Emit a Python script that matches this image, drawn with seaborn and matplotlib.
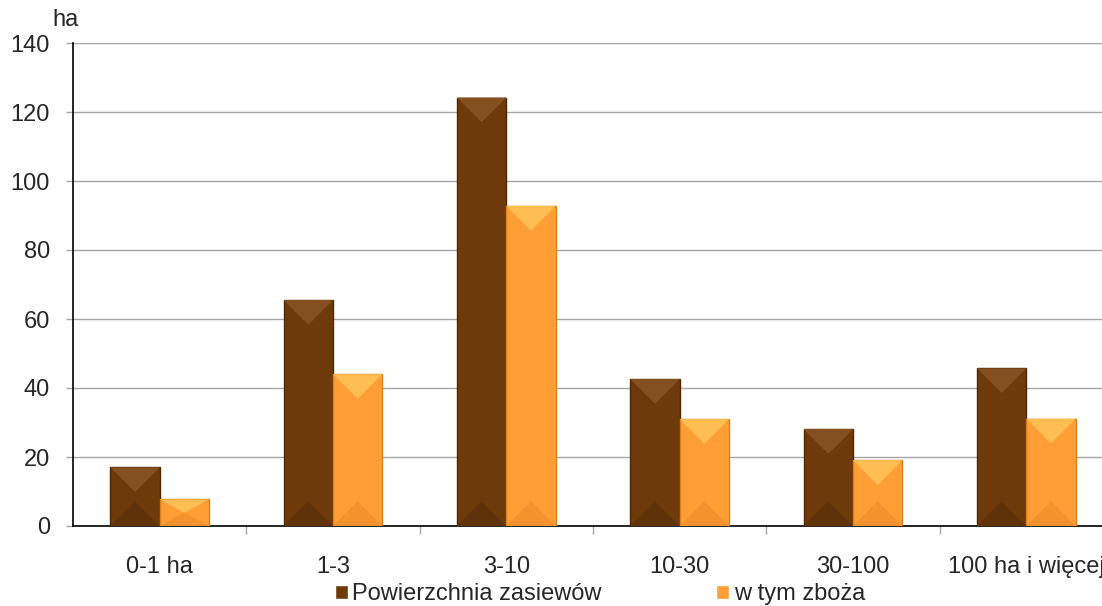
import matplotlib
matplotlib.use("Agg")
import matplotlib.pyplot as plt
import seaborn as sns
import pandas as pd
from matplotlib.patches import Polygon

categories = ["0-1 ha", "1-3", "3-10", "10-30", "30-100", "100 ha i więcej"]
powierzchnia = [17.0, 65.5, 124.2, 42.6, 28.1, 45.7]
zboza = [7.7, 44.0, 92.8, 31.0, 19.1, 31.1]
series = ["Powierzchnia zasiewów", "w tym zboża"]
colors = ["#6E3A09", "#FF9E35"]
edge_colors = ["#4E2804", "#D9801E"]
top_colors = ["#85501F", "#FFBE52"]
bottom_colors = ["#60320A", "#F4932E"]

df = pd.DataFrame({
    "kategoria": categories * 2,
    "seria": [series[0]] * len(categories) + [series[1]] * len(categories),
    "ha": powierzchnia + zboza,
})

sns.set_style("white")
plt.rcParams["font.family"] = ["Liberation Sans", "DejaVu Sans"]
fs = 17

fig = plt.figure(figsize=(11.02, 6.06), dpi=100)
ax = fig.add_axes([73 / 1102, 80 / 606, 1040 / 1102, 483 / 606])

sns.barplot(data=df, x="kategoria", y="ha", hue="seria", palette=colors,
            width=0.57, gap=0, saturation=1, ax=ax, legend=True, zorder=3)

ax.set_xlim(-0.5, 5.5)
ax.set_ylim(0, 140)
ax.set_yticks(range(0, 141, 20))
ax.yaxis.grid(True, color="#A6A6A6", linewidth=1, zorder=0)
ax.set_axisbelow(True)
ax.set_xlabel("")
ax.set_ylabel("")

for s in ["top", "right"]:
    ax.spines[s].set_visible(False)
for s in ["left", "bottom"]:
    ax.spines[s].set_color("black")
    ax.spines[s].set_linewidth(1.2)

ax.tick_params(axis="y", left=True, length=5, width=1, color="#A6A6A6",
               labelsize=fs, pad=11.5)
ax.tick_params(axis="x", bottom=False, labelsize=fs, pad=18)
ax.set_xticks([i + 0.5 for i in range(len(categories) - 1)], minor=True)
ax.tick_params(axis="x", which="minor", bottom=True, length=6, width=1,
               color="#A6A6A6")

# bevel look, built from the bar patches
fig.canvas.draw()
px_per_unit = ax.transData.transform((0, 1))[1] - ax.transData.transform((0, 0))[1]
px_per_x = ax.transData.transform((1, 0))[0] - ax.transData.transform((0, 0))[0]
n = len(categories)
for i, bar in enumerate(ax.patches[:2 * n]):
    k = i // n
    bar.set_edgecolor(edge_colors[k])
    bar.set_linewidth(1)
    x0 = bar.get_x()
    w = bar.get_width()
    hgt = bar.get_height()
    half_px = w * px_per_x / 2
    d = min(half_px, hgt * px_per_unit / 2) / px_per_unit
    xc = x0 + w / 2
    top = Polygon([(x0, hgt), (x0 + w, hgt), (xc, hgt - d)], closed=True,
                  facecolor=top_colors[k], edgecolor="none", zorder=3.5)
    bot = Polygon([(x0, 0), (x0 + w, 0), (xc, d)], closed=True,
                  facecolor=bottom_colors[k], edgecolor="none", zorder=3.5)
    ax.add_patch(top)
    ax.add_patch(bot)

handles, labels = ax.get_legend_handles_labels()
ax.legend_.remove()
fig.legend(handles, labels, loc="center", bbox_to_anchor=(600 / 1102, 1 - 594 / 606),
           ncol=2, frameon=False, fontsize=fs, handlelength=0.55, handleheight=0.55,
           handletextpad=0.18, columnspacing=4.85, borderaxespad=0)

fig.text(52 / 1102, 1 - 20 / 606, "ha", fontsize=fs, va="center", ha="left")

fig.savefig("out.png", dpi=100)
